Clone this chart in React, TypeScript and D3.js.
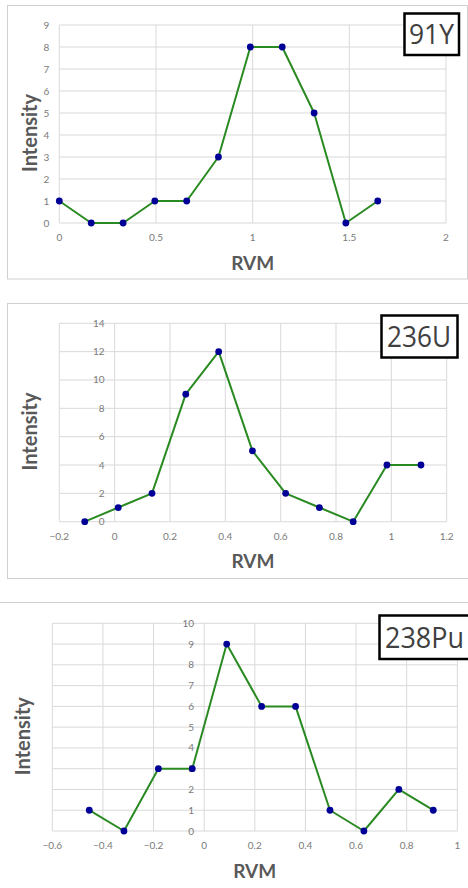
import React from "react";
import * as d3 from "d3";

// ---- data ----
const rvm91Y = [0, 0.165, 0.33, 0.494, 0.659, 0.823, 0.988, 1.153, 1.318, 1.482, 1.647];
const int91Y = [1, 0, 0, 1, 1, 3, 8, 8, 5, 0, 1];
const xTicks91Y = [0, 0.5, 1, 1.5, 2];
const yTicks91Y = [0, 1, 2, 3, 4, 5, 6, 7, 8, 9];

const rvm236U = [-0.108, 0.013, 0.135, 0.257, 0.376, 0.498, 0.618, 0.74, 0.862, 0.984, 1.107];
const int236U = [0, 1, 2, 9, 12, 5, 2, 1, 0, 4, 4];
const xTicks236U = [-0.2, 0, 0.2, 0.4, 0.6, 0.8, 1, 1.2];
const yTicks236U = [0, 2, 4, 6, 8, 10, 12, 14];

const rvm238Pu = [-0.454, -0.317, -0.181, -0.047, 0.089, 0.227, 0.361, 0.497, 0.631, 0.769, 0.905];
const int238Pu = [1, 0, 3, 3, 9, 6, 6, 1, 0, 2, 1];
const xTicks238Pu = [-0.6, -0.4, -0.2, 0, 0.2, 0.4, 0.6, 0.8, 1];
const yTicks238Pu = [0, 1, 2, 3, 4, 5, 6, 7, 8, 9, 10];

const labels = ["91Y", "236U", "238Pu"];

// ---- layout ----
const panels = [
  {
    label: labels[0], xs: rvm91Y, ys: int91Y, xTicks: xTicks91Y, yTicks: yTicks91Y,
    frame: { x: 7.5, y: 5.5, w: 460, h: 273.5 },
    plot: { l: 59.3, r: 446, t: 25, b: 223 },
    box: { x: 404.5, y: 13.5, w: 54.5, h: 41.5, fs: 27, tl: 45, tx: 409 },
    yTitleX: 37,
  },
  {
    label: labels[1], xs: rvm236U, ys: int236U, xTicks: xTicks236U, yTicks: yTicks236U,
    frame: { x: 7.5, y: 303.5, w: 462, h: 275 },
    plot: { l: 59.3, r: 446.7, t: 323.3, b: 521.7 },
    box: { x: 381.5, y: 315.5, w: 76, h: 42, fs: 29, tl: 64, tx: 387 },
    yTitleX: 37,
  },
  {
    label: labels[2], xs: rvm238Pu, ys: int238Pu, xTicks: xTicks238Pu, yTicks: yTicks238Pu,
    frame: { x: -5, y: 602.5, w: 480, h: 320 },
    plot: { l: 52.3, r: 457.3, t: 623.3, b: 831 },
    box: { x: 379.5, y: 615.5, w: 100, h: 43.5, fs: 29, tl: 79, tx: 385 },
    yTitleX: 30,
  },
];

const FONT = "Lato, 'Open Sans', sans-serif";
const BOXFONT = "'Open Sans', Lato, sans-serif";
const GRID = "#d9d9d9";
const TXT = "#595959";
const TICK = "#7a7a7a";

function Panel({ p }: { p: any }) {
  const x = d3.scaleLinear().domain([p.xTicks[0], p.xTicks[p.xTicks.length - 1]]).range([p.plot.l, p.plot.r]);
  const y = d3.scaleLinear().domain([p.yTicks[0], p.yTicks[p.yTicks.length - 1]]).range([p.plot.b, p.plot.t]);
  const pts = p.xs.map((v: number, i: number) => [v, p.ys[i]] as [number, number]);
  const line = d3.line<[number, number]>().x((d) => x(d[0])).y((d) => y(d[1]));
  const x0 = x(0);
  const cy = (p.plot.t + p.plot.b) / 2 + 9;
  const cx = (p.plot.l + p.plot.r) / 2;
  return (
    <g>
      <rect x={p.frame.x} y={p.frame.y} width={p.frame.w} height={p.frame.h} fill="#fff" stroke="#d0d0d0" strokeWidth={1} />
      {p.yTicks.map((t: number) => (
        <line key={"gy" + t} x1={p.plot.l} x2={p.plot.r} y1={y(t)} y2={y(t)} stroke={GRID} strokeWidth={1} />
      ))}
      {p.xTicks.map((t: number) => (
        <line key={"gx" + t} x1={x(t)} x2={x(t)} y1={p.plot.t} y2={p.plot.b} stroke={GRID} strokeWidth={1} />
      ))}
      {p.yTicks.map((t: number) => (
        <text key={"ty" + t} x={x0 - 10} y={y(t)} dy="0.35em" textAnchor="end" fontSize={10} fill={TICK} fontFamily={FONT}>
          {t}
        </text>
      ))}
      {p.xTicks.map((t: number) => (
        <text key={"tx" + t} x={x(t)} y={p.plot.b + 14.5} dy="0.35em" textAnchor="middle" fontSize={10} fill={TICK} fontFamily={FONT}>
          {d3.format("")(+t.toFixed(1))}
        </text>
      ))}
      <path d={line(pts) || ""} fill="none" stroke="#2a8a22" strokeWidth={2} strokeLinejoin="round" />
      {pts.map((d: [number, number], i: number) => (
        <circle key={"c" + i} cx={x(d[0])} cy={y(d[1])} r={3.4} fill="#000096" />
      ))}
      <text x={cx} y={p.plot.b + 46.5} textAnchor="middle" fontSize={19} fontWeight="bold" fill={TXT} fontFamily={FONT}>
        RVM
      </text>
      <text transform={`translate(${p.yTitleX},${cy}) rotate(-90)`} textAnchor="middle" fontSize={20} fontWeight="bold" fill={TXT} fontFamily={FONT}>
        Intensity
      </text>
      <rect x={p.box.x} y={p.box.y} width={p.box.w} height={p.box.h} fill="#fff" stroke="#000" strokeWidth={2.5} />
      <text x={p.box.tx} y={p.box.y + p.box.h / 2} dy="0.36em" fontSize={p.box.fs} fill="#404040" fontFamily={BOXFONT}
        textLength={p.box.tl} lengthAdjust="spacingAndGlyphs">
        {p.label}
      </text>
    </g>
  );
}

export default function App() {
  return (
    <svg width={468} height={888} style={{ position: "absolute", left: 0, top: 0, background: "#fff" }}>
      <rect x={0} y={0} width={468} height={888} fill="#fff" />
      {panels.map((p, i) => (
        <Panel key={i} p={p} />
      ))}
    </svg>
  );
}
